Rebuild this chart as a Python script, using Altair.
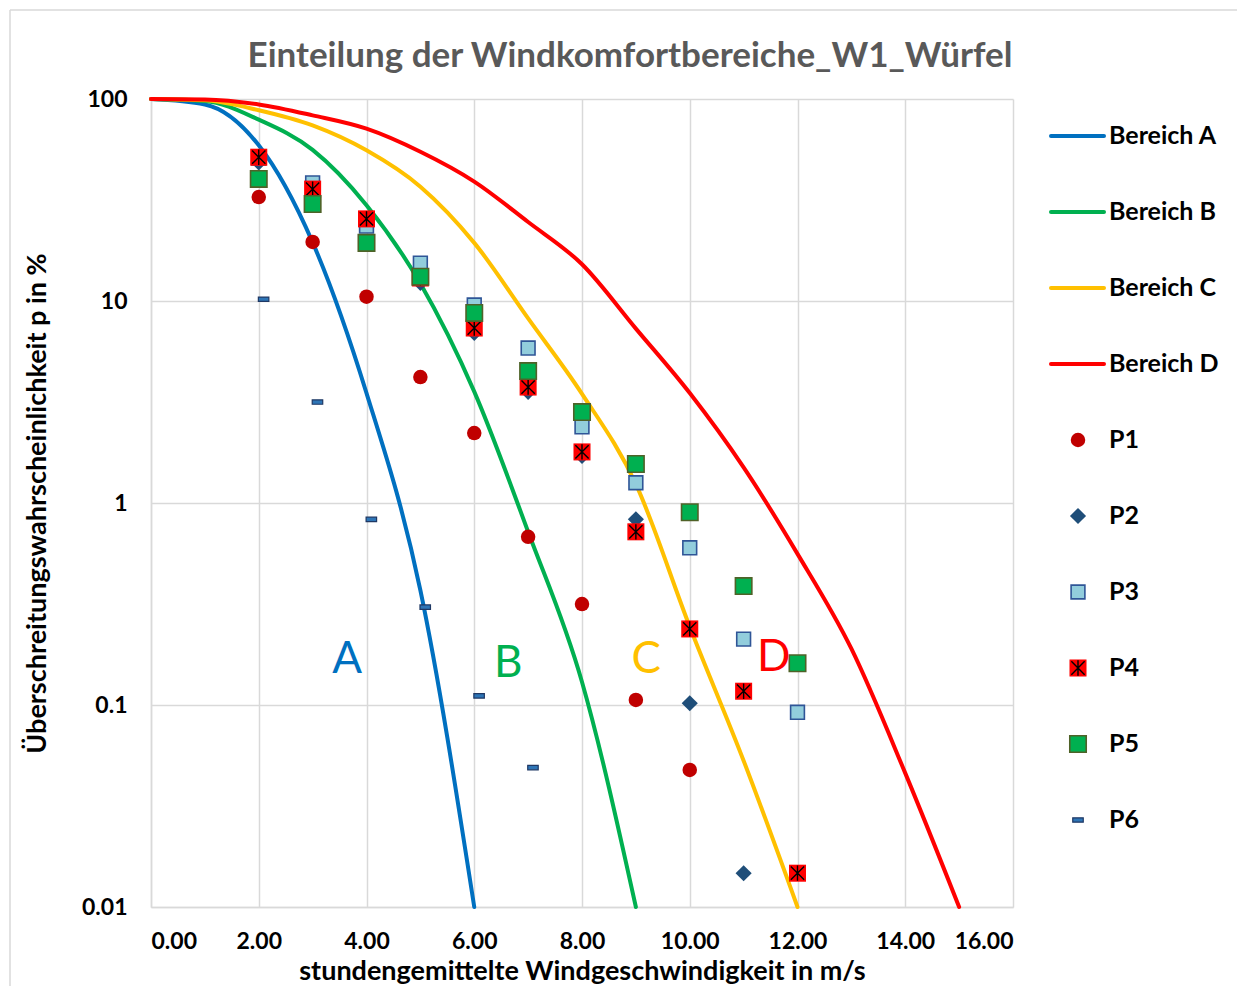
import altair as alt
import pandas as pd

# ---------------- data ----------------
bereich_a_x = [0, 1, 2, 3, 4, 5, 6]
bereich_a_p = [100, 94, 59, 19.5, 3.5, 0.37, 0.01]
bereich_b_x = [0, 1, 2, 3, 4, 5, 6, 7, 8, 9]
bereich_b_p = [100, 97.7, 79, 56, 29.8, 12.2, 3.56, 0.72, 0.13, 0.01]
bereich_c_x = [0, 1, 2, 3, 4, 5, 6, 7, 8, 9, 10, 11, 12]
bereich_c_p = [100, 98.5, 88, 74, 55.7, 36.8, 19.4, 8.2, 3.47, 1.24, 0.244, 0.053, 0.01]
bereich_d_x = [0, 1, 2, 3, 4, 5, 6, 7, 8, 9, 10, 11, 12, 13, 14, 15]
bereich_d_p = [100, 99.5, 94, 83, 71.3, 54.8, 39, 24.6, 15.2, 7.3, 3.5, 1.5, 0.56, 0.19, 0.046, 0.01]

p1_x = [2, 3, 4, 5, 6, 7, 8, 9, 10]
p1_p = [32.7, 19.6, 10.5, 4.2, 2.22, 0.68, 0.316, 0.106, 0.0477]
p2_x = [2, 3, 4, 5, 6, 7, 8, 9, 10, 11]
p2_p = [48.5, 33, 24, 12.3, 6.95, 3.55, 1.71, 0.83, 0.102, 0.0147]
p3_x = [2, 3, 4, 5, 6, 7, 8, 9, 10, 11, 12]
p3_p = [51, 38.4, 23.5, 15.4, 9.55, 5.85, 2.38, 1.26, 0.60, 0.212, 0.092]
p4_x = [2, 3, 4, 5, 6, 7, 8, 9, 10, 11, 12]
p4_p = [51.5, 35.8, 25.5, 13, 7.35, 3.75, 1.79, 0.72, 0.238, 0.117, 0.0147]
p5_x = [2, 3, 4, 5, 6, 7, 8, 9, 10, 11, 12]
p5_p = [40.2, 30.2, 19.4, 13.2, 8.73, 4.5, 2.82, 1.56, 0.90, 0.388, 0.161]
p6_x = [2.09, 3.09, 4.09, 5.09, 6.09, 7.09]
p6_p = [10.2, 3.16, 0.83, 0.305, 0.111, 0.049]

zone_letters = ["A", "B", "C", "D"]
zone_x = [3.64, 6.63, 9.19, 11.56]
zone_p = [0.167, 0.16, 0.167, 0.17]

bereich_names = ["Bereich A", "Bereich B", "Bereich C", "Bereich D"]
point_names = ["P1", "P2", "P3", "P4", "P5", "P6"]
legend_items = bereich_names + point_names

x_ticks = [0, 2, 4, 6, 8, 10, 12, 14, 16]
y_ticks = [0.01, 0.1, 1, 10, 100]

# ---------------- styles ----------------
line_colors = ["#0070C0", "#00B050", "#FFC000", "#FF0000"]
FONT = "Lato"
ASTERISK = "M-0.78,-0.78L0.78,0.78M0.78,-0.78L-0.78,0.78M0,-0.9L0,0.9"
DASH = "M-1,-0.42L1,-0.42L1,0.42L-1,0.42Z"

W, H = 862, 808

lines_df = pd.concat([
    pd.DataFrame({"v": xs, "p": ps, "bereich": name})
    for xs, ps, name in [
        (bereich_a_x, bereich_a_p, "Bereich A"),
        (bereich_b_x, bereich_b_p, "Bereich B"),
        (bereich_c_x, bereich_c_p, "Bereich C"),
        (bereich_d_x, bereich_d_p, "Bereich D"),
    ]
], ignore_index=True)

xscale = alt.Scale(domain=[0, 16], nice=False, zero=False)
yscale = alt.Scale(type="log", domain=[0.01, 100], nice=False)

X = alt.X("v:Q", scale=xscale,
          axis=alt.Axis(values=x_ticks, format=".2f",
                        title="stundengemittelte Windgeschwindigkeit in m/s"))
Y = alt.Y("p:Q", scale=yscale,
          axis=alt.Axis(values=y_ticks, format="~g",
                        title="Überschreitungswahrscheinlichkeit p in %"))

lines = alt.Chart(lines_df).mark_line(strokeWidth=4, strokeCap="round", interpolate="monotone").encode(
    x=X, y=Y,
    color=alt.Color("bereich:N", scale=alt.Scale(domain=bereich_names, range=line_colors), legend=None),
    order=alt.Order("v:Q"),
)


def pts(xs, ps):
    return alt.Chart(pd.DataFrame({"v": xs, "p": ps}))


def enc(ch):
    return ch.encode(x=alt.X("v:Q", scale=xscale), y=alt.Y("p:Q", scale=yscale))


l_p1 = enc(pts(p1_x, p1_p).mark_point(shape="circle", filled=True, size=210, color="#C00000", opacity=1))
l_p2 = enc(pts(p2_x, p2_p).mark_point(shape="diamond", filled=True, size=260, color="#1F4E79", opacity=1))
l_p3 = enc(pts(p3_x, p3_p).mark_point(shape="square", filled=True, size=190, fill="#92CDDC",
                                      stroke="#2F5597", strokeWidth=1.6, opacity=1))
l_p4a = enc(pts(p4_x, p4_p).mark_point(shape="square", filled=True, size=290, color="#FF0000", opacity=1))
l_p4b = enc(pts(p4_x, p4_p).mark_point(shape=ASTERISK, filled=False, size=290, stroke="#000000",
                                       strokeWidth=1.4, opacity=1))
l_p5 = enc(pts(p5_x, p5_p).mark_point(shape="square", filled=True, size=270, fill="#00B050",
                                      stroke="#4F6228", strokeWidth=1.6, opacity=1))
l_p6 = enc(pts(p6_x, p6_p).mark_point(shape=DASH, filled=True, size=110, fill="#2E75B6",
                                      stroke="#1F3864", strokeWidth=1.2, opacity=1))

letters = alt.Chart(pd.DataFrame({"v": zone_x, "p": zone_p, "t": zone_letters})).mark_text(
    font=FONT, fontSize=44, baseline="middle", align="center"
).encode(
    x=alt.X("v:Q", scale=xscale), y=alt.Y("p:Q", scale=yscale), text="t:N",
    color=alt.Color("t:N", scale=alt.Scale(domain=zone_letters, range=line_colors), legend=None),
)

# ---------------- manual legend (right of plot) ----------------
leg_scale = alt.Scale(type="point", domain=legend_items, range=[37, 721], padding=0)
LY = alt.Y("item:N", scale=leg_scale, axis=None)
leg_lines_df = pd.DataFrame({"item": bereich_names, "c": bereich_names})
leg_lines = alt.Chart(leg_lines_df).mark_rule(strokeWidth=4, strokeCap="round").encode(
    x=alt.value(900), x2=alt.value(953), y=LY,
    color=alt.Color("c:N", scale=alt.Scale(domain=bereich_names, range=line_colors), legend=None),
)


def leg_pt(name):
    return alt.Chart(pd.DataFrame({"item": [name]}))


lg1 = leg_pt("P1").mark_point(shape="circle", filled=True, size=210, color="#C00000", opacity=1).encode(x=alt.value(927), y=LY)
lg2 = leg_pt("P2").mark_point(shape="diamond", filled=True, size=260, color="#1F4E79", opacity=1).encode(x=alt.value(927), y=LY)
lg3 = leg_pt("P3").mark_point(shape="square", filled=True, size=190, fill="#92CDDC", stroke="#2F5597",
                              strokeWidth=1.6, opacity=1).encode(x=alt.value(927), y=LY)
lg4a = leg_pt("P4").mark_point(shape="square", filled=True, size=290, color="#FF0000", opacity=1).encode(x=alt.value(927), y=LY)
lg4b = leg_pt("P4").mark_point(shape=ASTERISK, filled=False, size=290, stroke="#000000", strokeWidth=1.4,
                               opacity=1).encode(x=alt.value(927), y=LY)
lg5 = leg_pt("P5").mark_point(shape="square", filled=True, size=270, fill="#00B050", stroke="#4F6228",
                              strokeWidth=1.6, opacity=1).encode(x=alt.value(927), y=LY)
lg6 = leg_pt("P6").mark_point(shape=DASH, filled=True, size=110, fill="#2E75B6", stroke="#1F3864",
                              strokeWidth=1.2, opacity=1).encode(x=alt.value(927), y=LY)
leg_text = alt.Chart(pd.DataFrame({"item": legend_items})).mark_text(
    align="left", baseline="middle", font=FONT, fontSize=25, fontWeight="bold", color="#000000"
).encode(x=alt.value(958), y=LY, text="item:N")

# chart-area frame (top and left edge of the outer border)
frame_top = alt.Chart(pd.DataFrame({"f": [0]})).mark_rule(color="#D9D9D9", strokeWidth=1.5).encode(
    x=alt.value(-141), x2=alt.value(1090), y=alt.value(-89))
frame_left = alt.Chart(pd.DataFrame({"f": [0]})).mark_rule(color="#D9D9D9", strokeWidth=1.5).encode(
    x=alt.value(-141), y=alt.value(-89), y2=alt.value(900))

legend_layer = alt.layer(frame_top, frame_left, leg_lines, lg1, lg2, lg3, lg4a, lg4b, lg5, lg6, leg_text)

main = alt.layer(lines, l_p1, l_p2, l_p3, l_p4a, l_p4b, l_p5, l_p6, letters)

chart = alt.layer(main, legend_layer).resolve_scale(y="independent", x="shared").properties(
    width=W, height=H,
    autosize=alt.AutoSizeParams(type="none"),
    padding={"left": 143, "top": 91, "right": 224, "bottom": 79},
    title=alt.TitleParams(
        "Einteilung der Windkomfortbereiche_W1_Würfel",
        font=FONT, fontSize=35, fontWeight="bold", color="#595959",
        anchor="middle", frame="group", dx=48, dy=127, offset=34, baseline="alphabetic",
    ),
).configure_view(stroke=None).configure_axis(
    grid=True, gridColor="#D9D9D9", gridWidth=1.5,
    domainColor="#D9D9D9", domainWidth=1.5,
    ticks=False,
    labelFont=FONT, labelFontSize=23, labelFontWeight="bold", labelColor="#000000",
    titleFont=FONT, titleFontSize=27, titleFontWeight="bold", titleColor="#000000",
).configure_axisX(
    labelPadding=23, titlePadding=5,
).configure_axisY(
    labelPadding=24, titlePadding=30,
)

chart.save("out.html", embed_options={"renderer": "svg", "actions": False})
